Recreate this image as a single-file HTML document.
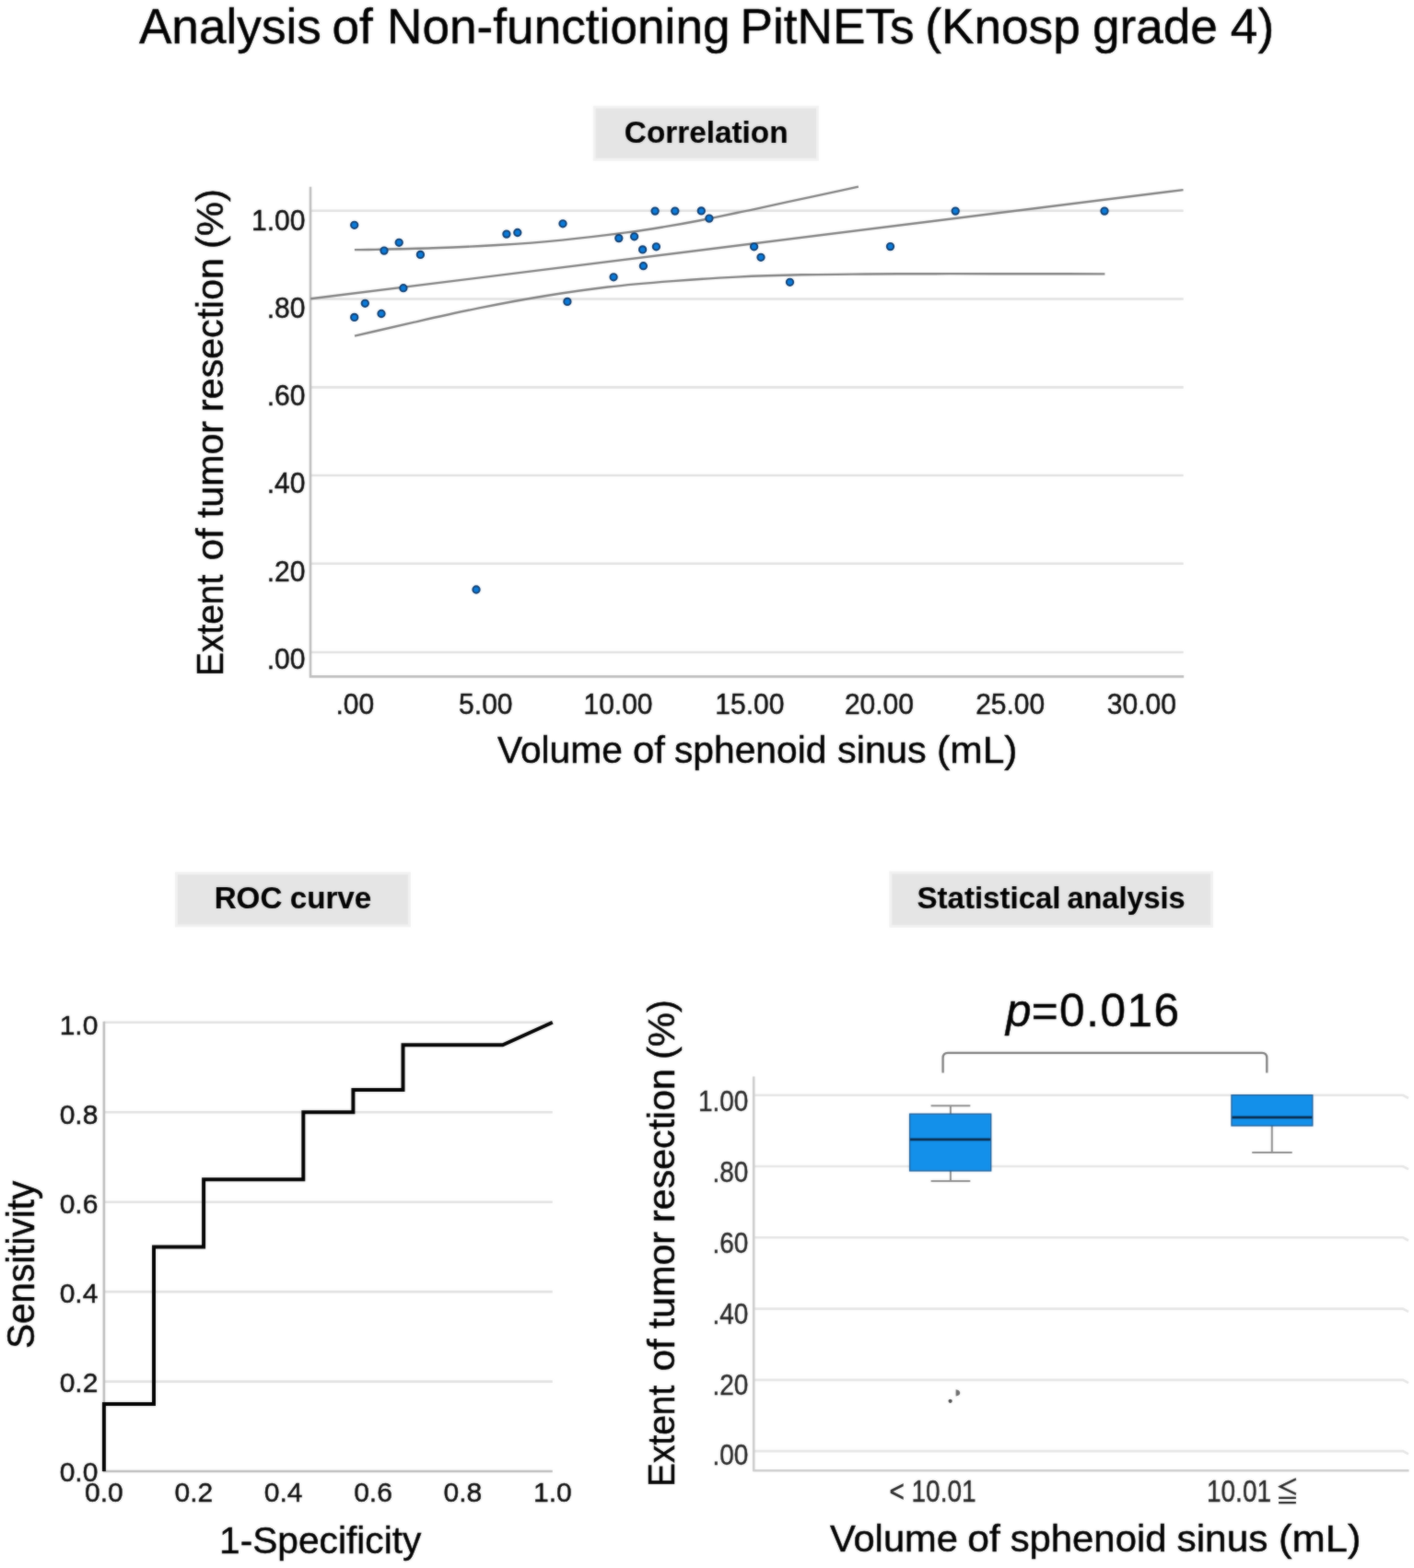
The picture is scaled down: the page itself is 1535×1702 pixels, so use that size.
<!DOCTYPE html>
<html lang="en">
<head>
<meta charset="utf-8">
<title>Analysis of Non-functioning PitNETs (Knosp grade 4)</title>
<style>
html,body{margin:0;padding:0;background:#fff;}
body{width:1535px;height:1702px;overflow:hidden;}
svg{display:block;}
text{font-family:"Liberation Sans","Noto Sans CJK JP",sans-serif;fill:#000;stroke:#000;stroke-width:0.45px;}
.tick{fill:#0c0c0c;stroke:#0c0c0c;}
.tickb{fill:#242424;stroke:#242424;stroke-width:0.35px;}
.b{stroke-width:0.15px;}
.grid{stroke:#e1e1e1;stroke-width:2.6;fill:none;}
.axis{stroke:#bdbdbd;stroke-width:2.6;fill:none;}
.fit{stroke:#808080;stroke-width:2.4;fill:none;stroke-linecap:butt;}
.pt{fill:#0b7cdc;stroke:#0b3a6e;stroke-width:1.9;}
.roc{stroke:#000;stroke-width:4.0;fill:none;stroke-linejoin:miter;stroke-linecap:butt;}
.box{fill:#1390ea;stroke:#1c5f9c;stroke-width:1.4;}
.med{stroke:#0a2c4e;stroke-width:2.7;}
.wh{stroke:#8c8c8c;stroke-width:2;fill:none;}
.hb{fill:#e5e5e5;stroke:#f1f1f1;stroke-width:3;}
</style>
</head>
<body>
<svg width="1535" height="1702" viewBox="0 0 1535 1702">
<defs>
<filter id="soft" x="0" y="0" width="1535" height="1702" filterUnits="userSpaceOnUse" color-interpolation-filters="sRGB">
<feGaussianBlur stdDeviation="0.8" result="b"/>
<feComposite in="SourceGraphic" in2="b" operator="arithmetic" k1="0" k2="0.5" k3="0.5" k4="0"/>
</filter>
</defs>
<g filter="url(#soft)">
<rect x="0" y="0" width="1535" height="1702" fill="#ffffff"/>

<g id="title">
<text y="47" font-size="53.2"><tspan x="150.90">Analysis</tspan> <tspan x="360.43">of</tspan> <tspan x="420.00">Non-functioning</tspan> <tspan x="803.45">PitNETs</tspan> <tspan x="1004.25">(Knosp</tspan> <tspan x="1185.90">grade</tspan> <tspan x="1335.83">4)</tspan></text>
</g>
<g id="headers">
<rect class="hb" x="645.3" y="116.2" width="242.2" height="57.0"/>
<text class="b" x="677.85" y="155.3" font-size="33.2" font-weight="bold" textLength="177.65" lengthAdjust="spacingAndGlyphs">Correlation</text>
<rect class="hb" x="191.4" y="947.9" width="253.0" height="57.0"/>
<text class="b" y="985.6" font-size="33.2" font-weight="bold"><tspan x="232.65">ROC</tspan> <tspan x="314.68">curve</tspan></text>
<rect class="hb" x="966.8" y="947.1" width="348.8" height="58.3"/>
<text class="b" y="986" font-size="32.6" font-weight="bold"><tspan x="995.49" textLength="156.07" lengthAdjust="spacingAndGlyphs">Statistical</tspan> <tspan x="1158.40" textLength="128.30" lengthAdjust="spacingAndGlyphs">analysis</tspan></text>
</g>
<g id="scatter">
<line class="grid" x1="337.0" y1="228.7" x2="1284.7" y2="228.7"/>
<line class="grid" x1="337.0" y1="324.5" x2="1284.7" y2="324.5"/>
<line class="grid" x1="337.0" y1="420.4" x2="1284.7" y2="420.4"/>
<line class="grid" x1="337.0" y1="516.0" x2="1284.7" y2="516.0"/>
<line class="grid" x1="337.0" y1="611.8" x2="1284.7" y2="611.8"/>
<line class="grid" x1="337.0" y1="708.0" x2="1284.7" y2="708.0"/>
<path class="axis" d="M337.0 202.7 V734.4 H1285.2"/>
<text class="tick" transform="translate(331.4 249.5) scale(1 1.06)" font-size="30" text-anchor="end">1.00</text>
<text class="tick" transform="translate(331.4 344.8) scale(1 1.06)" font-size="30" text-anchor="end">.80</text>
<text class="tick" transform="translate(331.4 440.1) scale(1 1.06)" font-size="30" text-anchor="end">.60</text>
<text class="tick" transform="translate(331.4 535.4) scale(1 1.06)" font-size="30" text-anchor="end">.40</text>
<text class="tick" transform="translate(331.4 630.7) scale(1 1.06)" font-size="30" text-anchor="end">.20</text>
<text class="tick" transform="translate(331.4 726.0) scale(1 1.06)" font-size="30" text-anchor="end">.00</text>
<text class="tick" transform="translate(385.3 774.7) scale(1 1.04)" font-size="30" text-anchor="middle">.00</text>
<text class="tick" transform="translate(527.3 774.7) scale(1 1.04)" font-size="30" text-anchor="middle">5.00</text>
<text class="tick" transform="translate(671 774.7) scale(1 1.04)" font-size="30" text-anchor="middle">10.00</text>
<text class="tick" transform="translate(813.8 774.7) scale(1 1.04)" font-size="30" text-anchor="middle">15.00</text>
<text class="tick" transform="translate(954.4 774.7) scale(1 1.04)" font-size="30" text-anchor="middle">20.00</text>
<text class="tick" transform="translate(1096.7 774.7) scale(1 1.04)" font-size="30" text-anchor="middle">25.00</text>
<text class="tick" transform="translate(1239.3 774.7) scale(1 1.04)" font-size="30" text-anchor="middle">30.00</text>
<text y="828.2" font-size="40"><tspan x="540.05" textLength="135.75" lengthAdjust="spacingAndGlyphs">Volume</tspan> <tspan x="686.97" textLength="34.88" lengthAdjust="spacingAndGlyphs">of</tspan> <tspan x="731.93" textLength="165.44" lengthAdjust="spacingAndGlyphs">sphenoid</tspan> <tspan x="909.11" textLength="96.52" lengthAdjust="spacingAndGlyphs">sinus</tspan> <tspan x="1017.14" textLength="87.37" lengthAdjust="spacingAndGlyphs">(mL)</tspan></text>
<text transform="translate(241.8 0) rotate(-90)" y="0" font-size="40.2"><tspan x="-734.05" textLength="110.36" lengthAdjust="spacingAndGlyphs">Extent</tspan> <tspan x="-608.22" textLength="34.95" lengthAdjust="spacingAndGlyphs">of</tspan> <tspan x="-562.21" textLength="105.29" lengthAdjust="spacingAndGlyphs">tumor</tspan> <tspan x="-446.91" textLength="166.89" lengthAdjust="spacingAndGlyphs">resection</tspan> <tspan x="-270.10" textLength="65.02" lengthAdjust="spacingAndGlyphs">(%)</tspan></text>
<path class="fit" d="M337.2 324.3 L1284.5 206.1"/>
<path class="fit" d="M384.9 271.1 C389.9 271.1 385.8 271.3 400.0 271.0 C414.2 270.7 446.7 270.1 470.0 269.3 C493.3 268.5 516.7 267.4 540.0 266.0 C563.3 264.6 586.7 262.9 610.0 260.6 C633.3 258.3 661.7 254.8 680.0 252.4 C698.3 250.0 706.7 248.6 720.0 246.4 C733.3 244.2 746.7 241.8 760.0 239.2 C773.3 236.6 790.0 233.1 800.0 231.0 C810.0 228.9 806.7 229.8 820.0 226.9 C833.3 224.0 861.4 217.8 880.0 213.8 C898.6 209.8 914.6 206.4 931.9 202.7"/>
<path class="fit" d="M385.0 364.7 C406.7 359.7 427.5 354.8 450.0 349.7 C472.5 344.6 496.7 339.1 520.0 334.4 C543.3 329.7 566.7 325.3 590.0 321.5 C613.3 317.7 636.7 314.2 660.0 311.5 C683.3 308.8 706.7 306.9 730.0 305.1 C753.3 303.3 776.7 301.7 800.0 300.6 C823.3 299.5 846.7 298.8 870.0 298.3 C893.3 297.8 916.7 297.7 940.0 297.5 C963.3 297.3 986.7 297.2 1010.0 297.2 C1033.3 297.1 1048.4 297.2 1080.0 297.2 C1111.6 297.2 1159.6 297.3 1199.4 297.4"/>
<circle class="pt" cx="384.7" cy="244.3" r="3.7"/>
<circle class="pt" cx="433.2" cy="263.3" r="3.7"/>
<circle class="pt" cx="417.0" cy="272.1" r="3.7"/>
<circle class="pt" cx="456.4" cy="276.4" r="3.7"/>
<circle class="pt" cx="549.9" cy="254.1" r="3.7"/>
<circle class="pt" cx="561.8" cy="252.5" r="3.7"/>
<circle class="pt" cx="611.0" cy="242.8" r="3.7"/>
<circle class="pt" cx="437.9" cy="312.7" r="3.7"/>
<circle class="pt" cx="396.3" cy="329.3" r="3.7"/>
<circle class="pt" cx="384.7" cy="344.4" r="3.7"/>
<circle class="pt" cx="414.0" cy="340.5" r="3.7"/>
<circle class="pt" cx="615.9" cy="327.4" r="3.7"/>
<circle class="pt" cx="711.1" cy="229.1" r="3.7"/>
<circle class="pt" cx="732.8" cy="229.1" r="3.7"/>
<circle class="pt" cx="761.3" cy="228.9" r="3.7"/>
<circle class="pt" cx="769.9" cy="237.1" r="3.7"/>
<circle class="pt" cx="671.8" cy="258.6" r="3.7"/>
<circle class="pt" cx="688.6" cy="256.8" r="3.7"/>
<circle class="pt" cx="697.6" cy="270.9" r="3.7"/>
<circle class="pt" cx="712.4" cy="267.8" r="3.7"/>
<circle class="pt" cx="698.4" cy="288.7" r="3.7"/>
<circle class="pt" cx="666.1" cy="300.8" r="3.7"/>
<circle class="pt" cx="818.6" cy="267.8" r="3.7"/>
<circle class="pt" cx="826.0" cy="279.3" r="3.7"/>
<circle class="pt" cx="857.5" cy="306.3" r="3.7"/>
<circle class="pt" cx="966.5" cy="267.6" r="3.7"/>
<circle class="pt" cx="1037.2" cy="229.1" r="3.7"/>
<circle class="pt" cx="1199.0" cy="229.1" r="3.7"/>
<circle class="pt" cx="517" cy="640" r="3.7"/>
</g>
<g id="roc">
<line class="grid" x1="112.9" y1="1499.6" x2="599.8" y2="1499.6"/>
<line class="grid" x1="112.9" y1="1402.1" x2="599.8" y2="1402.1"/>
<line class="grid" x1="112.9" y1="1304.7" x2="599.8" y2="1304.7"/>
<line class="grid" x1="112.9" y1="1207.2" x2="599.8" y2="1207.2"/>
<line class="grid" x1="112.9" y1="1109.8" x2="599.8" y2="1109.8"/>
<path class="axis" d="M112.9 1108.8 V1597.0 H599.8"/>
<text class="tick" transform="translate(106.4 1608.0) scale(1 1.0)" font-size="30" text-anchor="end">0.0</text>
<text class="tick" transform="translate(112.9 1630.3) scale(1 1.0)" font-size="30" text-anchor="middle">0.0</text>
<text class="tick" transform="translate(106.4 1511.1) scale(1 1.0)" font-size="30" text-anchor="end">0.2</text>
<text class="tick" transform="translate(210.3 1630.3) scale(1 1.0)" font-size="30" text-anchor="middle">0.2</text>
<text class="tick" transform="translate(106.4 1414.2) scale(1 1.0)" font-size="30" text-anchor="end">0.4</text>
<text class="tick" transform="translate(307.7 1630.3) scale(1 1.0)" font-size="30" text-anchor="middle">0.4</text>
<text class="tick" transform="translate(106.4 1317.2) scale(1 1.0)" font-size="30" text-anchor="end">0.6</text>
<text class="tick" transform="translate(405.0 1630.3) scale(1 1.0)" font-size="30" text-anchor="middle">0.6</text>
<text class="tick" transform="translate(106.4 1220.3) scale(1 1.0)" font-size="30" text-anchor="end">0.8</text>
<text class="tick" transform="translate(502.4 1630.3) scale(1 1.0)" font-size="30" text-anchor="middle">0.8</text>
<text class="tick" transform="translate(106.4 1123.4) scale(1 1.0)" font-size="30" text-anchor="end">1.0</text>
<text class="tick" transform="translate(599.8 1630.3) scale(1 1.0)" font-size="30" text-anchor="middle">1.0</text>
<path class="roc" d="M112.9 1597.0 L112.9 1523.9 L167.0 1523.9 L167.0 1353.4 L221.1 1353.4 L221.1 1280.3 L329.3 1280.3 L329.3 1207.2 L383.4 1207.2 L383.4 1182.9 L437.5 1182.9 L437.5 1134.2 L545.7 1134.2 L599.8 1109.8"/>
<text x="238.09" y="1685.7" font-size="40.6" textLength="219.23" lengthAdjust="spacingAndGlyphs">1-Specificity</text>
<text transform="translate(36.7 1464.03) rotate(-90)" font-size="42" textLength="182.39" lengthAdjust="spacingAndGlyphs">Sensitivity</text>
</g>
<g id="boxplot">
<path class="grid" style="stroke-width:2.6;stroke:#e5e5e5" d="M818.2 1188.8 H1523 L1529 1192.0"/>
<path class="grid" style="stroke-width:2.6;stroke:#e5e5e5" d="M818.2 1266.0 H1523 L1529 1269.2"/>
<path class="grid" style="stroke-width:2.6;stroke:#e5e5e5" d="M818.2 1343.3 H1523 L1529 1346.5"/>
<path class="grid" style="stroke-width:2.6;stroke:#e5e5e5" d="M818.2 1420.6 H1523 L1529 1423.8"/>
<path class="grid" style="stroke-width:2.6;stroke:#e5e5e5" d="M818.2 1497.9 H1523 L1529 1501.1"/>
<path class="grid" style="stroke-width:2.6;stroke:#e5e5e5" d="M818.2 1575.1 H1523 L1529 1578.3"/>
<path d="M818.2 1168.5 V1596.2 H1529.5" fill="none" stroke="#cccccc" stroke-width="2.6" stroke-linejoin="round"/>
<text class="tickb" transform="translate(812.4 1206.4) scale(1 1.15)" font-size="28" text-anchor="end">1.00</text>
<text class="tickb" transform="translate(812.4 1283.2) scale(1 1.15)" font-size="28" text-anchor="end">.80</text>
<text class="tickb" transform="translate(812.4 1360.0) scale(1 1.15)" font-size="28" text-anchor="end">.60</text>
<text class="tickb" transform="translate(812.4 1436.8) scale(1 1.15)" font-size="28" text-anchor="end">.40</text>
<text class="tickb" transform="translate(812.4 1513.6) scale(1 1.15)" font-size="28" text-anchor="end">.20</text>
<text class="tickb" transform="translate(812.4 1590.4) scale(1 1.15)" font-size="28" text-anchor="end">.00</text>
<path class="wh" style="stroke:#7c7c7c;stroke-width:2.3" d="M1023.6 1164.5 V1148.5 Q1023.6 1142.9 1029 1142.9 H1370 Q1375.3 1142.9 1375.3 1148.5 V1164.5"/>
<text y="1114.1" font-size="49.5"><tspan x="1092.08" font-style="italic">p</tspan><tspan x="1119.70" letter-spacing="1.52">=0.016</tspan></text>
<path class="wh" d="M1010.6 1200.3 H1053.3 M1031.9 1200.3 V1282 M1010.6 1282 H1053.3"/>
<rect class="box" x="987.6" y="1209.2" width="88.1" height="61.7"/>
<line class="med" x1="988" y1="1236.8" x2="1075.3" y2="1236.8"/>
<path class="wh" d="M1380.8 1221 V1251 M1359.2 1251 H1402.7"/>
<rect class="box" x="1337" y="1188.7" width="87.8" height="33.2"/>
<line class="med" x1="1337.4" y1="1212.8" x2="1424.4" y2="1212.8"/>
<circle cx="1031.6" cy="1520.8" r="2.1" fill="#4a4a4a"/>
<path d="M1037.6 1508.3 C1043.8 1508.9 1043.8 1515.1 1037.6 1515.6 Z" fill="#6e6e6e"/>
<text class="tickb" transform="translate(1012.5 1629.7) scale(1 1.17)" font-size="28" text-anchor="middle">&lt; 10.01</text>
<text class="tickb" transform="translate(1345 1629.7) scale(1 1.17)" font-size="28" text-anchor="middle">10.01<tspan x="52.6" dy="0.6" font-size="25">≦</tspan></text>
<text y="1684.3" font-size="40.3"><tspan x="900.94" textLength="139.03" lengthAdjust="spacingAndGlyphs">Volume</tspan> <tspan x="1050.25" textLength="35.50" lengthAdjust="spacingAndGlyphs">of</tspan> <tspan x="1096.70" textLength="169.76" lengthAdjust="spacingAndGlyphs">sphenoid</tspan> <tspan x="1277.48" textLength="98.97" lengthAdjust="spacingAndGlyphs">sinus</tspan> <tspan x="1388.10" textLength="89.48" lengthAdjust="spacingAndGlyphs">(mL)</tspan></text>
<text transform="translate(732.2 0) rotate(-90)" y="0" font-size="40.2"><tspan x="-1614.05" textLength="110.36" lengthAdjust="spacingAndGlyphs">Extent</tspan> <tspan x="-1488.22" textLength="34.95" lengthAdjust="spacingAndGlyphs">of</tspan> <tspan x="-1442.21" textLength="105.29" lengthAdjust="spacingAndGlyphs">tumor</tspan> <tspan x="-1326.91" textLength="166.89" lengthAdjust="spacingAndGlyphs">resection</tspan> <tspan x="-1150.10" textLength="65.02" lengthAdjust="spacingAndGlyphs">(%)</tspan></text>
</g>
</g>
</svg>
</body>
</html>
